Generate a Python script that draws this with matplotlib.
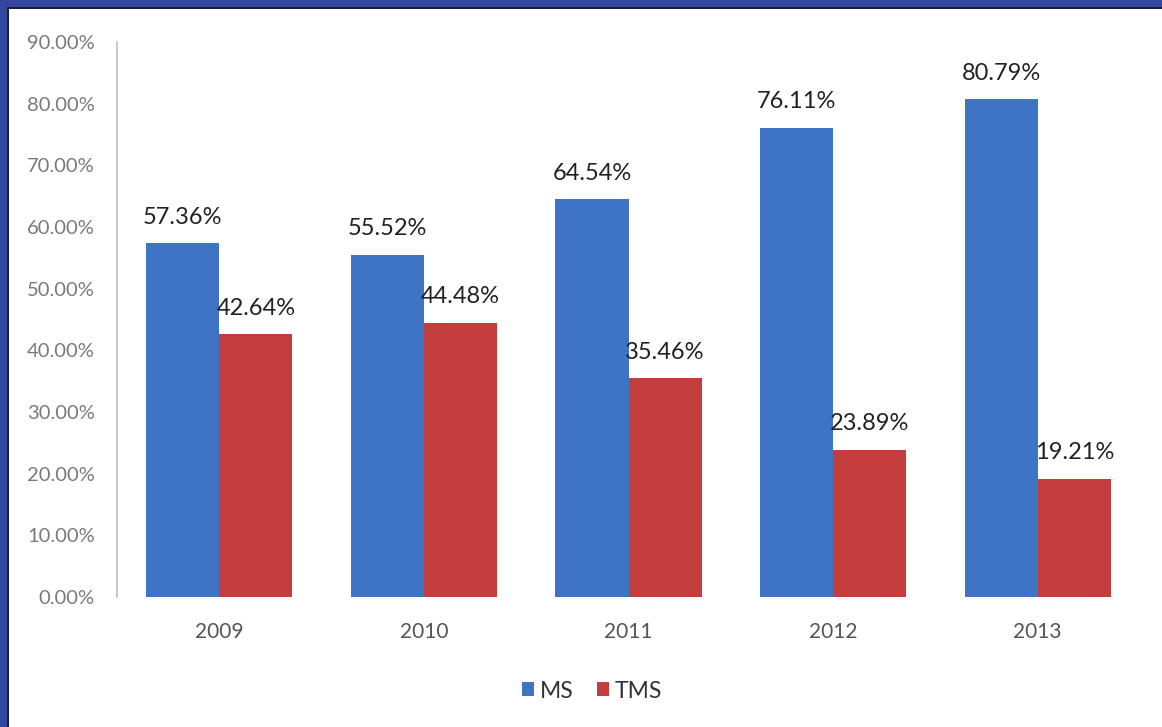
import matplotlib
matplotlib.use("Agg")
import matplotlib.pyplot as plt
from matplotlib.patches import Rectangle
from matplotlib.ticker import FuncFormatter
import numpy as np

plt.rcParams['font.family'] = ['Lato', 'DejaVu Sans']

years = ["2009", "2010", "2011", "2012", "2013"]
ms = [57.36, 55.52, 64.54, 76.11, 80.79]
tms = [42.64, 44.48, 35.46, 23.89, 19.21]
series_names = ["MS", "TMS"]
yticks = [0, 10, 20, 30, 40, 50, 60, 70, 80, 90]

blue = "#3E74C3"
red = "#C33D3C"

W, H = 1162, 727
fig = plt.figure(figsize=(W / 100, H / 100), dpi=100)
fig.patch.set_facecolor("white")

ax = fig.add_axes([117 / W, 1 - 597 / H, (1140 - 117) / W, (597 - 42) / H])
x = np.arange(len(years))
bw = 0.357
b1 = ax.bar(x - bw / 2, ms, width=bw, color=blue, label=series_names[0])
b2 = ax.bar(x + bw / 2, tms, width=bw, color=red, label=series_names[1])

for bars, vals in ((b1, ms), (b2, tms)):
    for rect, v in zip(bars, vals):
        ax.annotate(f"{v:.2f}%", (rect.get_x() + rect.get_width() / 2, v),
                    xytext=(0, 11), textcoords="offset points", ha="center", va="bottom",
                    fontsize=17, color="#222222")

ax.set_xlim(-0.5, len(years) - 0.5)
ax.set_ylim(0, 90)
ax.set_yticks(yticks)
ax.yaxis.set_major_formatter(FuncFormatter(lambda v, p: f"{v:.2f}%"))
ax.set_xticks(x)
ax.set_xticklabels(years)
ax.tick_params(axis="y", length=0, pad=16, labelsize=14.5, labelcolor="#7a7a7a")
ax.tick_params(axis="x", length=0, pad=18, labelsize=15, labelcolor="#555555")
for s in ["top", "right", "bottom"]:
    ax.spines[s].set_visible(False)
ax.spines["left"].set_color("#bfbfbf")
ax.spines["left"].set_linewidth(1.2)
ax.set_facecolor("white")

fig.legend(handles=[b1, b2], labels=series_names, loc="center",
           bbox_to_anchor=(592 / W, 1 - 691 / H), ncol=2, frameon=False,
           fontsize=16.5, handlelength=0.55, handleheight=0.55, handletextpad=0.25,
           columnspacing=1.0, labelcolor="#333333")

# border on left and top
fig.patches.append(Rectangle((0, 0), 7 / W, 1, transform=fig.transFigure,
                             facecolor="#3346A0", edgecolor="none", zorder=10))
fig.patches.append(Rectangle((0, 1 - 7 / H), 1, 7 / H, transform=fig.transFigure,
                             facecolor="#3346A0", edgecolor="none", zorder=10))
fig.patches.append(Rectangle((7 / W, 0), 1.5 / W, 1 - 7 / H, transform=fig.transFigure,
                             facecolor="#1f1f2a", edgecolor="none", zorder=10))
fig.patches.append(Rectangle((7 / W, 1 - 8.5 / H), 1, 1.5 / H, transform=fig.transFigure,
                             facecolor="#1f1f2a", edgecolor="none", zorder=10))

fig.savefig("out.png", dpi=100, facecolor="white")
